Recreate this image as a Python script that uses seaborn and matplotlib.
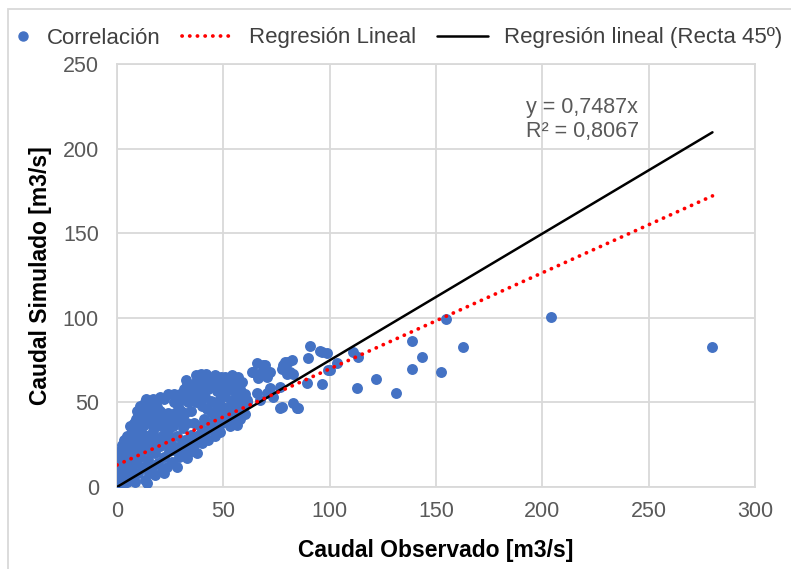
import numpy as np
import pandas as pd
import matplotlib
matplotlib.use("Agg")
import matplotlib.pyplot as plt
import seaborn as sns
from matplotlib.lines import Line2D
from matplotlib.patches import Rectangle
from matplotlib.legend_handler import HandlerLine2D

# Observed vs simulated discharge [m3/s]
observed = [
    0, 0.3, 0.5, 0.8, 1, 1.2, 1.5, 0.4, 1, 0.6, 1.8, 2, 2, 1.5, 0.2, 0.7, 1.3, 2.2,
    2.5, 3, 3, 3.5, 4, 4, 4.5, 3.8, 5, 5, 2.8, 4.5, 3.2,
    6, 6, 6.5, 7, 7, 7.5, 8, 8, 8.5, 9, 9, 9.5, 10, 10, 10, 6, 8, 9.5,
    11, 11, 11.5, 12, 12, 12.5, 13, 13, 13, 14, 14, 14, 14.5, 15, 15, 11, 12.5, 13.5,
    16, 16, 16.5, 17, 17, 17.5, 18, 18, 18, 19, 19, 19.5, 20, 20, 16, 18.5,
    21, 21, 21, 22, 22, 22.5, 23, 23.5, 24, 24, 24.5, 25, 25, 20.5, 22,
    26, 26.5, 27, 27, 27.5, 28, 28, 28.5, 29, 29, 29.5, 30, 30, 26,
    31, 31, 31, 31.5, 32, 32, 33, 33, 33, 33.5, 34, 34, 35, 35, 35, 32.5,
    36, 36, 36.5, 37, 37, 37.5, 38, 38.5, 39, 39, 39.5, 40, 40, 40, 36,
    41, 41, 41.5, 42, 42, 42.5, 43, 43, 43.5, 44, 44, 44.5, 45, 45, 41,
    46, 46.5, 47, 47, 47.5, 48, 48.5, 49, 49, 49.5, 50, 50, 46,
    51, 51, 51.5, 52, 52, 53, 53, 53.5, 54, 54, 55, 55, 55,
    56, 56, 57, 57, 58, 58, 59, 59, 60, 60,
    2, 3, 5, 6, 7, 8, 9, 10, 11, 12, 13, 15, 16, 17, 19, 20, 21, 23, 24, 25,
    27, 28, 30, 31, 32, 34, 35, 37, 38, 40, 42, 43, 45, 47, 48, 50, 52, 54, 56, 58,
    61, 65.8, 67.2, 59, 70.5, 73.4, 65.7, 63.5, 68.6, 72, 70.5, 79, 77.6, 80,
    72, 76.6, 56.4, 48.4, 57.8, 61.1, 53.1, 48.4, 69.6, 78, 80.4, 68.2, 64, 81.3,
    66.3, 76.6, 84.6, 77.6, 82.8, 85.1, 82.3, 79, 80, 82.8, 89.3, 89.9, 90.8,
    95.4, 98.7, 96.4, 96.4, 99.2, 100, 103.4, 111, 113.3, 112.8, 122, 131,
    138.7, 143.4, 138.7, 152.3, 154.7, 162.7, 204, 280,
]
simulated = [
    0, 1, 3, 5, 2, 8, 12, 15, 18, 20, 22, 4, 10, 6, 0.5, 10, 14, 16,
    25, 6, 13, 20, 27, 9, 3, 17, 22, 12, 1.5, 30, 28,
    5, 15, 25, 33, 10, 20, 28, 38, 3, 14, 24, 35, 8, 30, 42, 36, 17, 45,
    18, 48, 26, 12, 36, 42, 4, 22, 50, 2.5, 30, 46, 16, 38, 8, 33, 27, 52,
    25, 48, 12, 33, 52, 42, 7, 20, 29, 47, 37, 14, 24, 53, 40, 50,
    10, 30, 43, 18, 52, 38, 26, 12, 33, 55, 21, 42, 29, 36, 8,
    15, 36, 22, 55, 44, 12, 30, 48, 18, 39, 55, 25, 45, 25,
    20, 35, 52, 58, 28, 44, 17, 61, 38, 50, 24, 55, 31, 45, 21, 63,
    59, 38, 26, 50, 66, 20, 61, 31, 55, 36, 67, 48, 26, 60, 21,
    63, 40, 53, 33, 67, 46, 58, 28, 38, 64, 51, 44, 35, 60, 30,
    66, 41, 48, 62, 34, 58, 52, 44, 65, 38, 60, 47, 30,
    54, 65, 40, 58, 45, 62, 36, 51, 66, 43, 57, 48, 38,
    62, 44, 54, 65, 40, 58, 47, 62, 55, 43,
    18, 23, 16, 30, 27, 33, 40, 20, 38, 44, 30, 45, 20, 46, 28, 45, 40, 34, 44, 38,
    50, 40, 52, 42, 56, 60, 55, 62, 52, 56, 61, 64, 50, 57, 63, 55, 61, 59, 53, 50,
    51.4, 55.6, 51.4, 53, 55.6, 53, 73, 68, 72, 68, 65, 74, 70, 68,
    58.5, 59, 36.6, 32.5, 48.5, 50.2, 46.7, 46.7, 72.1, 72, 73.9, 68, 68, 68,
    64.4, 46.7, 46.7, 47.3, 49.6, 46.7, 75, 72, 67, 67, 61.5, 76.2, 83.3,
    80.4, 79.2, 79.8, 60.9, 69.2, 69, 73.3, 79.8, 76.8, 58.5, 63.8, 55.6,
    86.3, 76.8, 69.7, 68, 99.5, 82.7, 100.5, 83,
]

# Trend line parameters
trend_intercept = 13.0
trend_slope = 0.568
eq_slope = 0.7487
eq_r2 = 0.8067

x_ticks = [0, 50, 100, 150, 200, 250, 300]
y_ticks = [0, 50, 100, 150, 200, 250]

sns.set_theme(style="white")
plt.rcParams["font.family"] = ["Liberation Sans", "DejaVu Sans"]

fig = plt.figure(figsize=(7.91, 5.69), dpi=100)
ax = fig.add_axes([117 / 791, 1 - 487 / 569, 638 / 791, 423 / 569])

df = pd.DataFrame({"observado": observed, "simulado": simulated})
sns.scatterplot(data=df, x="observado", y="simulado", ax=ax, color="#4472C4",
                s=62, linewidth=0, zorder=3, legend=False)

xline = np.array([0.0, max(observed)])
ax.plot(xline, eq_slope * xline, color="black", lw=1.8, zorder=4)
ax.plot(xline, trend_intercept + trend_slope * xline, color="#FF0000", lw=2.7,
        linestyle=(0, (0.05, 2.0)), dash_capstyle="round", zorder=5)

ax.set_xlim(0, 300)
ax.set_ylim(0, 250)
ax.set_xticks(x_ticks)
ax.set_yticks(y_ticks)
ax.grid(True, color="#D9D9D9", lw=1.3)
ax.set_axisbelow(True)
for sp in ax.spines.values():
    sp.set_color("#D9D9D9")
    sp.set_linewidth(1.3)
ax.tick_params(axis="both", length=0, labelsize=15.5, labelcolor="#595959")
ax.tick_params(axis="x", pad=10)
ax.tick_params(axis="y", pad=13)

ax.set_xlabel("Caudal Observado [m3/s]", fontsize=16.5, fontweight="bold", color="black", labelpad=12)
ax.set_ylabel("Caudal Simulado [m3/s]", fontsize=16.5, fontweight="bold", color="black", labelpad=8)

eq_text = f"y = {eq_slope:.4f}x\nR² = {eq_r2:.4f}".replace(".", ",")
ax.text(192.5, 230.5, eq_text, fontsize=15.5, color="#595959", ha="left", va="top",
        linespacing=1.2, zorder=6)


class RightMarkerHandler(HandlerLine2D):
    """Legend handler that puts a single marker near the right end of the handle box."""

    def get_xdata(self, legend, xdescent, ydescent, width, height, fontsize):
        m = -xdescent + width - 0.35 * fontsize
        return [m - 1, m + 1], [m]


handles = [
    Line2D([], [], marker="o", color="#4472C4", linestyle="None", markersize=6.5),
    Line2D([], [], color="#FF0000", lw=2.7, linestyle=(0, (0.05, 2.0)), dash_capstyle="round"),
    Line2D([], [], color="black", lw=1.8),
]
labels = ["Correlación", "Regresión Lineal", "Regresión lineal (Recta 45º)"]
fig.legend(handles, labels, loc="center", bbox_to_anchor=(0.482, 1 - 38 / 569), ncol=3,
           frameon=False, fontsize=16, handlelength=2.27, handletextpad=0.75,
           columnspacing=0.95, labelcolor="#404040",
           handler_map={handles[0]: RightMarkerHandler(numpoints=1)})

fig.patches.append(Rectangle((8 / 791, -0.05), 1.1, 1.05 - 9 / 569, transform=fig.transFigure,
                             fill=False, edgecolor="#D9D9D9", lw=1.3))

fig.savefig("out.png", dpi=100)
